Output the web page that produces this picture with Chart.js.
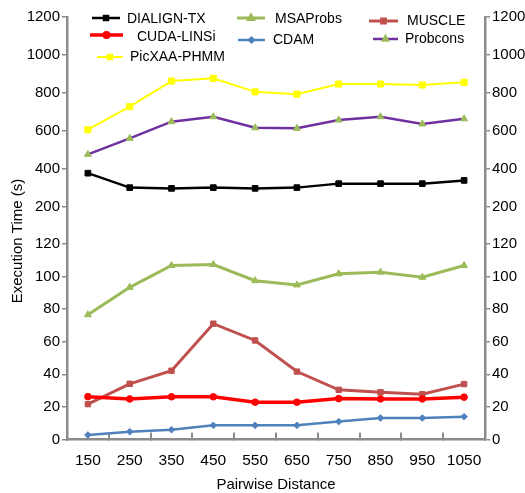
<!DOCTYPE html>
<html>
<head>
<meta charset="utf-8">
<script src="https://cdn.jsdelivr.net/npm/chart.js@4.4.0/dist/chart.umd.min.js"></script>
<style>
  html, body { margin: 0; padding: 0; background: #fff; }
</style>
</head>
<body>
<canvas id="chart" width="525" height="493"></canvas>
<script>
const distances = ['150', '250', '350', '450', '550', '650', '750', '850', '950', '1050'];

// upper panel (200 - 1200 s)
const dialignTx  = [378, 302, 298, 302, 298, 302, 323, 323, 323, 340];
const picxaaPhmm = [607, 728, 863, 877, 806, 794, 847, 847, 842, 856];
const probcons   = [477, 561, 649, 675, 617, 614, 658, 675, 637, 664];

// lower panel (0 - 120 s)
const cudaLinsi = [26.3, 24.9, 26.2, 26.2, 22.9, 22.9, 25.1, 24.9, 24.9, 26.0];
const msaProbs  = [76.6, 93.4, 106.8, 107.4, 97.5, 94.9, 101.7, 102.7, 99.6, 106.8];
const muscle    = [21.7, 34.2, 42.2, 71.1, 60.8, 41.7, 30.5, 29.0, 27.8, 34.0];
const cdam      = [2.8, 4.8, 6.0, 8.7, 8.7, 8.7, 11.0, 13.2, 13.2, 14.0];

const upperTicks = [200, 400, 600, 800, 1000, 1200];
const lowerTicks = [0, 20, 40, 60, 80, 100, 120];

const FONT = "'Liberation Sans', Arial, sans-serif";
const AXIS = '#8c8c8c';

function yScale(stack, position, min, max, weight, ticks) {
    return {
        type: 'linear', position, stack, stackWeight: weight, min, max,
        border: { color: AXIS, width: 2.5 },
        grid: { drawOnChartArea: false, drawTicks: true, tickLength: 5, color: AXIS, lineWidth: 1.5 },
        ticks: {
            color: '#000', padding: 2, autoSkip: false,
            font: { family: FONT, size: 15 },
            callback: v => String(v),
        },
        afterBuildTicks: s => { s.ticks = ticks.map(v => ({ value: v })); },
        afterFit: s => { s.width = position === 'left' ? 67 : 40; },
    };
}

const legendItems = [
    { ds: 0, x1: 92,  x2: 120, y: 18, tx: 127, ty: 19 },
    { ds: 3, x1: 90,  x2: 123, y: 35, tx: 137, ty: 37 },
    { ds: 1, x1: 97,  x2: 123, y: 57, tx: 130, ty: 57 },
    { ds: 4, x1: 237, x2: 265, y: 18, tx: 275, ty: 19 },
    { ds: 6, x1: 238, x2: 265, y: 40, tx: 273, ty: 40 },
    { ds: 5, x1: 369, x2: 398, y: 21, tx: 407, ty: 21 },
    { ds: 2, x1: 373, x2: 398, y: 39, tx: 405, ty: 39 },
];

const extras = {
    id: 'extras',
    afterDraw(chart) {
        const ctx = chart.ctx;
        ctx.save();
        ctx.fillStyle = '#000';
        ctx.textBaseline = 'middle';
        ctx.font = '15px ' + FONT;
        ctx.textAlign = 'center';
        ctx.fillText('Pairwise Distance', 276, 485);
        ctx.save();
        ctx.translate(18, 241);
        ctx.rotate(-Math.PI / 2);
        ctx.fillText('Execution Time (s)', 0, 0);
        ctx.restore();

        ctx.font = '14px ' + FONT;
        ctx.textAlign = 'left';
        legendItems.forEach(it => {
            const d = chart.data.datasets[it.ds];
            ctx.strokeStyle = d.borderColor;
            ctx.lineWidth = d.borderWidth;
            ctx.beginPath();
            ctx.moveTo(it.x1, it.y);
            ctx.lineTo(it.x2, it.y);
            ctx.stroke();
            ctx.fillStyle = d.pointBackgroundColor;
            ctx.strokeStyle = d.pointBorderColor;
            Chart.helpers.drawPoint(ctx, { pointStyle: d.pointStyle, radius: d.pointRadius * 0.7, borderWidth: 1 },
                (it.x1 + it.x2) / 2, it.y);
            ctx.fillStyle = '#000';
            ctx.fillText(d.label, it.tx, it.ty);
        });
        ctx.restore();
    }
};

function series(label, data, axis, color, width, style, radius, pointColor) {
    const pc = pointColor || color;
    return {
        label, data, yAxisID: axis,
        borderColor: color, borderWidth: width,
        pointStyle: style, pointRadius: radius, pointHoverRadius: radius,
        pointBackgroundColor: pc, pointBorderColor: pc, pointBorderWidth: 1,
        tension: 0, fill: false,
    };
}

new Chart(document.getElementById('chart'), {
    type: 'line',
    data: {
        labels: distances,
        datasets: [
            series('DIALIGN-TX', dialignTx, 'yTop', '#000000', 2.5, 'rect', 4, null),
            series('PicXAA-PHMM', picxaaPhmm, 'yTop', '#ffff00', 2, 'rect', 4.3, null),
            series('Probcons', probcons, 'yTop', '#7030a0', 2.5, 'triangle', 4, '#9bbb59'),
            series('CUDA-LINSi', cudaLinsi, 'yBot', '#ff0000', 3.5, 'circle', 3.3, null),
            series('MSAProbs', msaProbs, 'yBot', '#9bbb59', 3, 'triangle', 4, null),
            series('MUSCLE', muscle, 'yBot', '#c0504d', 3, 'rect', 3.8, null),
            series('CDAM', cdam, 'yBot', '#4f81bd', 2.5, 'rectRot', 3.3, null),
        ],
    },
    options: {
        responsive: false,
        animation: false,
        events: [],
        layout: { padding: { top: 17, left: 0, right: 0, bottom: 0 } },
        plugins: { legend: { display: false }, tooltip: { enabled: false } },
        scales: {
            x: {
                type: 'category', offset: true,
                border: { color: AXIS, width: 2.5 },
                grid: { offset: true, drawOnChartArea: false, drawTicks: true, tickLength: -7, color: AXIS, lineWidth: 2 },
                ticks: { color: '#000', padding: 19, maxRotation: 0, autoSkip: false, font: { family: FONT, size: 15.5 } },
                afterFit: s => { s.height = 53.5; },
            },
            yBot: yScale('L', 'left', 0, 120, 195.5, lowerTicks),
            yTop: yScale('L', 'left', 5.26, 1200, 227, upperTicks),
            yTopR: yScale('R', 'right', 5.26, 1200, 227, upperTicks),
            yBotR: yScale('R', 'right', 0, 120, 195.5, lowerTicks),
        },
    },
    plugins: [extras],
});
</script>
</body>
</html>
